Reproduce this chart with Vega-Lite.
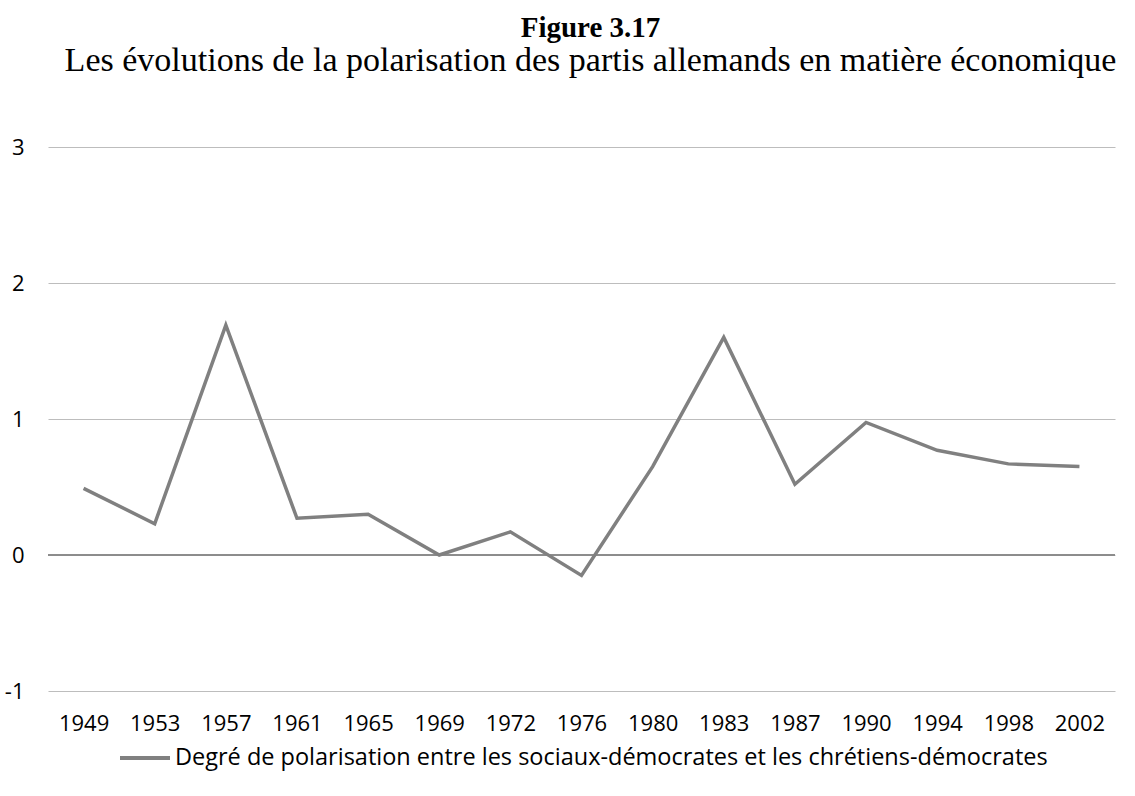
{
  "$schema": "https://vega.github.io/schema/vega-lite/v6.json",
  "width": 1067,
  "height": 544,
  "autosize": {"type": "none"},
  "padding": {"left": 48, "top": 147, "right": 20, "bottom": 105},
  "background": "white",
  "title": {
    "text": "Figure 3.17",
    "subtitle": "Les évolutions de la polarisation des partis allemands en matière économique",
    "anchor": "middle",
    "frame": "group",
    "font": "Liberation Serif",
    "fontSize": 29,
    "fontWeight": "bold",
    "color": "#000000",
    "subtitleFont": "Liberation Serif",
    "subtitleFontSize": 34,
    "subtitleColor": "#000000",
    "subtitlePadding": 1,
    "offset": 58,
    "dx": 9
  },
  "config": {
    "view": {"stroke": null},
    "axis": {"labelFont": "Open Sans", "labelFontSize": 22, "labelColor": "#000000"},
    "legend": {"labelFont": "Open Sans", "labelFontSize": 23.5, "labelColor": "#000000"}
  },
  "data": {
    "values": [
      {"year": "1949", "value": 0.49, "serie": "Degré de polarisation entre les sociaux-démocrates et les chrétiens-démocrates"},
      {"year": "1953", "value": 0.23, "serie": "Degré de polarisation entre les sociaux-démocrates et les chrétiens-démocrates"},
      {"year": "1957", "value": 1.69, "serie": "Degré de polarisation entre les sociaux-démocrates et les chrétiens-démocrates"},
      {"year": "1961", "value": 0.27, "serie": "Degré de polarisation entre les sociaux-démocrates et les chrétiens-démocrates"},
      {"year": "1965", "value": 0.30, "serie": "Degré de polarisation entre les sociaux-démocrates et les chrétiens-démocrates"},
      {"year": "1969", "value": 0.0, "serie": "Degré de polarisation entre les sociaux-démocrates et les chrétiens-démocrates"},
      {"year": "1972", "value": 0.17, "serie": "Degré de polarisation entre les sociaux-démocrates et les chrétiens-démocrates"},
      {"year": "1976", "value": -0.15, "serie": "Degré de polarisation entre les sociaux-démocrates et les chrétiens-démocrates"},
      {"year": "1980", "value": 0.65, "serie": "Degré de polarisation entre les sociaux-démocrates et les chrétiens-démocrates"},
      {"year": "1983", "value": 1.60, "serie": "Degré de polarisation entre les sociaux-démocrates et les chrétiens-démocrates"},
      {"year": "1987", "value": 0.52, "serie": "Degré de polarisation entre les sociaux-démocrates et les chrétiens-démocrates"},
      {"year": "1990", "value": 0.975, "serie": "Degré de polarisation entre les sociaux-démocrates et les chrétiens-démocrates"},
      {"year": "1994", "value": 0.77, "serie": "Degré de polarisation entre les sociaux-démocrates et les chrétiens-démocrates"},
      {"year": "1998", "value": 0.67, "serie": "Degré de polarisation entre les sociaux-démocrates et les chrétiens-démocrates"},
      {"year": "2002", "value": 0.65, "serie": "Degré de polarisation entre les sociaux-démocrates et les chrétiens-démocrates"}
    ]
  },
  "layer": [
    {
      "mark": {"type": "rule", "color": "#8c8c8c", "strokeWidth": 1},
      "encoding": {"y": {"datum": 0, "type": "quantitative"}}
    },
    {
      "mark": {"type": "line", "strokeWidth": 3.5},
      "encoding": {
        "x": {
          "field": "year",
          "type": "ordinal",
          "scale": {"padding": 0.5},
          "axis": {"title": null, "labelAngle": 0, "ticks": false, "domain": false, "labelPadding": 22}
        },
        "y": {
          "field": "value",
          "type": "quantitative",
          "scale": {"domain": [-1, 3]},
          "axis": {"title": null, "values": [-1, 0, 1, 2, 3], "labelExpr": "'' + datum.value", "grid": true, "ticks": false, "domain": false, "gridColor": "#bdbdbd", "gridOpacity": 1, "labelPadding": 24}
        },
        "color": {
          "field": "serie",
          "type": "nominal",
          "scale": {"range": ["#808080"]},
          "legend": {"title": null, "orient": "none", "legendX": 70, "legendY": 584, "symbolType": "stroke", "symbolSize": 2500, "symbolStrokeWidth": 4, "labelOffset": 3, "labelLimit": 0}
        }
      }
    }
  ]
}
